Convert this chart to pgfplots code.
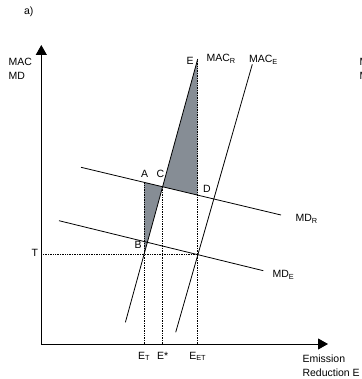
\documentclass[border=0pt]{standalone}
\usepackage{fontspec}
\setmainfont{Liberation Sans}
\usepackage{pgfplots}
\pgfplotsset{compat=1.18}
\usetikzlibrary{arrows.meta}
\definecolor{shade}{RGB}{134,141,149}
\begin{document}
\begin{tikzpicture}[font=\fontsize{10.5}{12}\selectfont]
\useasboundingbox (-41.3pt,-35pt) rectangle (319.7pt,344pt);
\clip (-41.3pt,-35pt) rectangle (319.7pt,344pt);
\begin{axis}[
  at={(0pt,0pt)}, anchor=south west,
  x=1pt, y=1pt,
  xmin=0, xmax=286.7, ymin=0, ymax=299,
  axis lines=left,
  xtick=\empty, ytick=\empty,
  clip=false,
  x axis line style={line width=1pt, -{Triangle[length=10pt,width=11pt]}},
  y axis line style={line width=1pt, -{Triangle[length=10pt,width=11pt]}},
  every node/.append style={font=\fontsize{10.5}{12}\selectfont, inner sep=0pt},
]
% shaded areas
\addplot[fill=shade, draw=none] coordinates {(102.7,161.7) (121.3,157.2) (102.7,89.4)} -- cycle;
\addplot[fill=shade, draw=none] coordinates {(121.3,157.2) (156.4,285) (156.4,148.9)} -- cycle;
% dotted guides
\addplot[densely dotted, line width=0.7pt] coordinates {(102.7,0) (102.7,161.7)};
\addplot[densely dotted, line width=0.7pt] coordinates {(121.3,0) (121.3,157.2)};
\addplot[densely dotted, line width=0.7pt] coordinates {(156.4,0) (156.4,285)};
\addplot[densely dotted, line width=0.7pt] coordinates {(0,89.5) (156.4,89.5)};
% curves
\addplot[black, line width=0.8pt] coordinates {(84.1,21.7) (156.4,285)};   % MAC_R
\addplot[black, line width=0.8pt] coordinates {(134.4,11.7) (211,279.7)};  % MAC_E
\addplot[black, line width=0.8pt] coordinates {(39.7,176.7) (239.7,129)};  % MD_R
\addplot[black, line width=0.8pt] coordinates {(17.7,123.3) (222,73.3)};   % MD_E
% labels
\node[anchor=base west] at (axis cs:-20.8,329) {a)};
\node[anchor=base west] at (axis cs:-36.3,278) {MAC};
\node[anchor=base west] at (axis cs:-36.3,264) {MD};
\node[anchor=base west] at (axis cs:314.7,278) {MAC};
\node[anchor=base west] at (axis cs:314.7,264) {MD};
\node[anchor=base west] at (axis cs:161.7,282) {MAC\textsubscript{R}};
\node[anchor=base west] at (axis cs:204.2,281) {MAC\textsubscript{E}};
\node[anchor=base west] at (axis cs:141.7,279) {E};
\node[anchor=base west] at (axis cs:96.4,166) {A};
\node[anchor=base west] at (axis cs:111.7,166) {C};
\node[anchor=base west] at (axis cs:158.2,151.5) {D};
\node[anchor=base west] at (axis cs:89.7,95) {B};
\node[anchor=base west] at (axis cs:-13.3,87) {T};
\node[anchor=base west] at (axis cs:250.7,122.5) {MD\textsubscript{R}};
\node[anchor=base west] at (axis cs:227.7,66) {MD\textsubscript{E}};
\node[anchor=base] at (axis cs:102.7,-15) {E\textsubscript{T}};
\node[anchor=base] at (axis cs:121.3,-15) {E*};
\node[anchor=base] at (axis cs:156.4,-15) {E\textsubscript{ET}};
\node[anchor=base west] at (axis cs:257.7,-18.5) {Emission};
\node[anchor=base west] at (axis cs:257.7,-32) {Reduction E};
\end{axis}
\end{tikzpicture}
\end{document}
